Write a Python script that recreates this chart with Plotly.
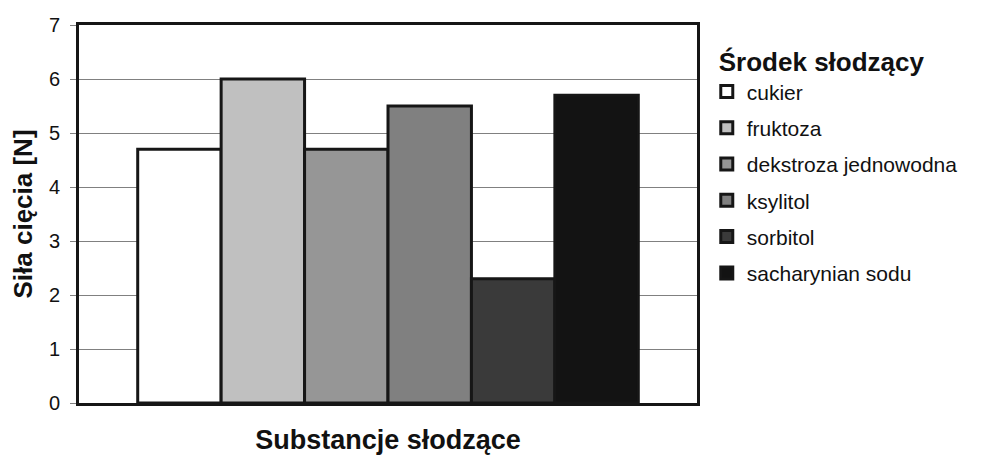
import plotly.graph_objects as go

categories = ["cukier", "fruktoza", "dekstroza jednowodna", "ksylitol", "sorbitol", "sacharynian sodu"]
values = [4.7, 6.0, 4.7, 5.5, 2.3, 5.7]
colors = ["#ffffff", "#c0c0c0", "#969696", "#808080", "#3a3a3a", "#131313"]
group_label = ["Substancje słodzące"]
y_ticks = [0, 1, 2, 3, 4, 5, 6, 7]

fig = go.Figure()
for name, v, c in zip(categories, values, colors):
    fig.add_trace(go.Bar(
        x=group_label, y=[v], name=name, legendgroup=name,
        marker=dict(color=c, line=dict(color="#161616", width=3)),
    ))

fig.update_layout(
    width=988, height=457,
    barmode="group", bargap=0.19, bargroupgap=0,
    paper_bgcolor="white", plot_bgcolor="white",
    margin=dict(l=71, r=299, t=17, b=62),
    font=dict(family="Liberation Sans, Arial, sans-serif", color="#111111", size=20),
    showlegend=True,
    legend=dict(
        x=1.032, y=0.967, xanchor="left", yanchor="top",
        title=dict(text="<b>Środek słodzący</b>", font=dict(size=26)),
        font=dict(size=21), traceorder="grouped", tracegroupgap=6,
        itemwidth=30, indentation=-10, bgcolor="rgba(0,0,0,0)",
    ),
    xaxis=dict(
        showticklabels=False, ticks="", automargin=False,
        showline=True, mirror=True, linecolor="#161616", linewidth=3,
        title=dict(text="<b>Substancje słodzące</b>", font=dict(size=27), standoff=26),
    ),
    yaxis=dict(
        range=[0, 7], tickvals=y_ticks, ticktext=[str(t) for t in y_ticks],
        automargin=False,
        showgrid=True, gridcolor="#808080", gridwidth=1,
        showline=True, mirror=True, linecolor="#161616", linewidth=3,
        ticks="outside", ticklen=6, tickcolor="#808080", tickwidth=1,
        ticklabelstandoff=6,
        tickfont=dict(size=20),
        title=dict(text="<b>Siła cięcia [N]</b>", font=dict(size=26), standoff=12),
    ),
)

fig.write_html("out.html")
